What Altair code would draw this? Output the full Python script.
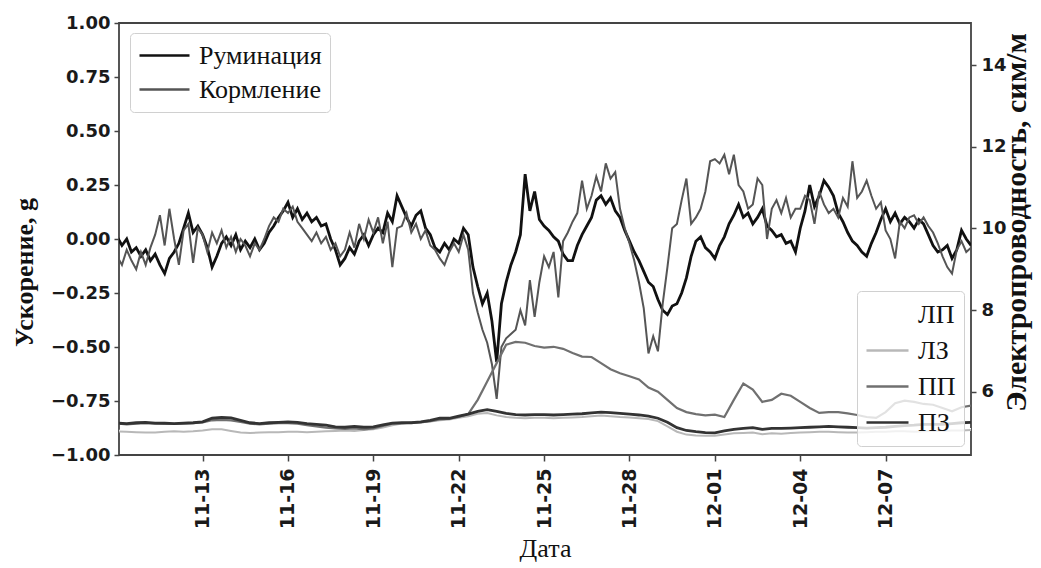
import altair as alt
import pandas as pd

# ---- left axis series (acceleration, g), one value every 4 hours from 11-10 00:00 ----
rum = [
    0.01, -0.03, 0.0, -0.06, -0.04, -0.08,
    -0.05, -0.10, -0.07, -0.12, -0.16, -0.09,
    -0.06, -0.02, 0.05, 0.12, 0.03, 0.06,
    0.02, -0.04, -0.13, -0.08, -0.02, 0.01,
    -0.03, 0.02, -0.05, -0.01, -0.04, 0.0,
    -0.05, -0.02, 0.03, 0.06, 0.10, 0.13,
    0.17, 0.10, 0.14, 0.09, 0.12, 0.08,
    0.10, 0.06, 0.07, 0.0, -0.05, -0.12,
    -0.09, -0.04, -0.07, -0.01, 0.02, -0.03,
    0.02, 0.05, 0.03, 0.12, 0.08, 0.20,
    0.15, 0.10, 0.06, 0.11, 0.13, 0.05,
    0.02, -0.04, -0.06, -0.02, -0.05, 0.0,
    -0.02, 0.05, 0.02, -0.13, -0.22, -0.30,
    -0.25, -0.38, -0.57, -0.30, -0.20, -0.12,
    -0.06, 0.02, 0.30, 0.13, 0.22, 0.09,
    0.06, 0.04, 0.01, -0.01, -0.07, -0.10,
    -0.10, -0.03, 0.02, 0.06, 0.10, 0.18,
    0.20, 0.16, 0.19, 0.13, 0.10, 0.04,
    -0.01, -0.06, -0.10, -0.15, -0.20, -0.22,
    -0.28, -0.33, -0.35, -0.31, -0.30, -0.25,
    -0.18, -0.08, -0.01, 0.01, -0.04, -0.06,
    -0.09, -0.03, 0.01, 0.07, 0.11, 0.16,
    0.10, 0.12, 0.07, 0.10, 0.14, 0.06,
    0.04, 0.01, 0.02, -0.02, -0.01, -0.06,
    0.05, 0.13, 0.25, 0.15, 0.20, 0.27,
    0.24, 0.20, 0.12, 0.08, 0.03, -0.01,
    -0.03, -0.06, -0.08, -0.02, 0.03, 0.09,
    0.14, 0.08, 0.12, 0.07, 0.10, 0.08,
    0.05, 0.09, 0.07, 0.02, -0.03, -0.06,
    -0.05, -0.03, -0.09, -0.05, 0.04, 0.0,
    -0.03,
]
korm = [
    -0.08, -0.12, -0.05, -0.10, -0.14, -0.06,
    -0.12, -0.04, 0.02, 0.11, -0.03, 0.14,
    0.0, -0.12, 0.04, 0.07, -0.11, 0.05,
    0.02, -0.06, 0.03, -0.02, 0.04, -0.04,
    0.01, -0.06, 0.0, -0.03, -0.08, -0.02,
    -0.05, 0.0, 0.06, 0.10, 0.08, 0.14,
    0.12, 0.15, 0.08, 0.05, 0.02, -0.01,
    0.03, -0.02, 0.01, -0.05, -0.02, -0.08,
    -0.05, 0.03, -0.04, 0.07, 0.0, 0.09,
    0.03, 0.10, -0.02, 0.08, -0.13, 0.05,
    0.06, 0.12, 0.03, 0.07, 0.0, 0.04,
    -0.03, -0.05, -0.09, -0.12, -0.06, -0.02,
    -0.06, 0.02, -0.05, -0.25, -0.34, -0.42,
    -0.48, -0.58, -0.74, -0.50, -0.46, -0.44,
    -0.42, -0.33, -0.40, -0.19, -0.36, -0.20,
    -0.08, -0.13, -0.06, -0.27, -0.01, 0.03,
    0.08, 0.12, 0.27, 0.14, 0.20, 0.29,
    0.22, 0.35, 0.28, 0.31, 0.14, 0.05,
    -0.02, -0.10, -0.20, -0.32, -0.53, -0.45,
    -0.52, -0.30, -0.13, 0.05, 0.07, 0.18,
    0.28, 0.07, 0.10, 0.14, 0.22, 0.36,
    0.37, 0.35, 0.39, 0.30, 0.39, 0.25,
    0.22, 0.14, 0.16, 0.28, 0.25, 0.0,
    0.14, 0.18, 0.12, 0.19, 0.10, 0.14,
    0.14, 0.20, 0.18, 0.07, 0.22, 0.16,
    0.12, 0.14, 0.10, 0.19, 0.15, 0.36,
    0.19, 0.22, 0.27, 0.20, 0.14, 0.17,
    0.04, 0.0, -0.09, 0.08, 0.05, 0.10,
    0.11, 0.07, 0.10, 0.06, 0.03, -0.02,
    -0.08, -0.13, -0.16, -0.05, -0.01, -0.06,
    -0.04,
]

# ---- right axis series (conductivity), one value every 8 hours from 11-10 00:00 ----
lp = [
    5.05, 5.04, 5.05, 5.06, 5.05, 5.05, 5.04, 5.05, 5.06, 5.08, 5.12, 5.12,
    5.10, 5.06, 5.04, 5.04, 5.05, 5.06, 5.06, 5.05, 5.04, 5.04, 5.05, 5.06,
    5.06, 5.05, 5.07, 5.10, 5.14, 5.20, 5.24, 5.26, 5.27, 5.29, 5.32, 5.34,
    5.38, 5.42, 5.48, 5.50, 5.45, 5.40, 5.38, 5.37, 5.38, 5.38, 5.37, 5.38,
    5.39, 5.40, 5.42, 5.44, 5.42, 5.40, 5.39, 5.37, 5.35, 5.30, 5.18, 5.05,
    4.98, 4.96, 4.95, 4.95, 4.98, 5.01, 5.02, 5.03, 5.00, 5.01, 5.00, 5.02,
    5.03, 5.04, 5.05, 5.05, 5.04, 5.03, 5.03, 5.04, 5.05, 5.05, 5.06, 5.06,
    5.05, 5.06, 5.07, 5.07, 5.08, 5.08, 5.09,
]
lz = [
    5.03, 5.02, 5.01, 5.00, 5.00, 5.02, 5.03, 5.02, 5.03, 5.05, 5.08, 5.08,
    5.04, 5.00, 4.99, 5.00, 5.01, 5.01, 5.02, 5.02, 5.01, 5.02, 5.03, 5.04,
    5.05, 5.04, 5.06, 5.08, 5.12, 5.18, 5.22, 5.24, 5.25, 5.27, 5.30, 5.32,
    5.36, 5.40, 5.46, 5.48, 5.42, 5.38, 5.36, 5.35, 5.36, 5.36, 5.35, 5.36,
    5.37, 5.38, 5.40, 5.42, 5.40, 5.38, 5.37, 5.35, 5.33, 5.28, 5.15, 5.02,
    4.95, 4.93, 4.92, 4.92, 4.95, 4.98, 4.99, 5.00, 4.96, 4.98, 4.97, 4.99,
    5.00, 5.01, 5.02, 5.02, 5.01, 5.00, 5.00, 5.01, 5.02, 5.02, 5.03, 5.03,
    5.02, 5.03, 5.04, 5.04, 5.05, 5.05, 5.06,
]
pp = [
    5.22, 5.20, 5.22, 5.23, 5.22, 5.21, 5.21, 5.22, 5.23, 5.25, 5.30, 5.31,
    5.30, 5.26, 5.22, 5.20, 5.22, 5.23, 5.23, 5.22, 5.18, 5.15, 5.12, 5.10,
    5.09, 5.10, 5.08, 5.10, 5.16, 5.22, 5.23, 5.24, 5.25, 5.28, 5.32, 5.34,
    5.38, 5.45, 5.80, 6.25, 6.70, 7.15, 7.22, 7.20, 7.12, 7.08, 7.10, 7.05,
    6.95, 6.86, 6.85, 6.70, 6.55, 6.45, 6.38, 6.30, 6.10, 6.00, 5.80, 5.60,
    5.50, 5.45, 5.42, 5.44, 5.38, 5.80, 6.20, 6.05, 5.75, 5.80, 5.95, 5.90,
    5.75, 5.60, 5.48, 5.50, 5.50, 5.47, 5.43, 5.38, 5.36, 5.50, 5.72, 5.78,
    5.75, 5.70, 5.68, 5.60, 5.52, 5.62, 5.66,
]
pz = [
    5.23, 5.22, 5.24, 5.25, 5.23, 5.23, 5.22, 5.23, 5.24, 5.26, 5.35, 5.37,
    5.36, 5.30, 5.24, 5.22, 5.24, 5.25, 5.26, 5.25, 5.22, 5.20, 5.18, 5.14,
    5.13, 5.15, 5.13, 5.14, 5.19, 5.23, 5.24, 5.24, 5.26, 5.30, 5.35, 5.35,
    5.40, 5.45, 5.52, 5.56, 5.52, 5.47, 5.44, 5.43, 5.44, 5.44, 5.43, 5.44,
    5.45, 5.46, 5.48, 5.50, 5.49, 5.47, 5.45, 5.43, 5.40, 5.35, 5.25, 5.12,
    5.05, 5.02, 5.00, 4.99, 5.04, 5.08, 5.10, 5.12, 5.08, 5.10, 5.10, 5.11,
    5.12, 5.13, 5.14, 5.15, 5.14, 5.13, 5.12, 5.11, 5.12, 5.13, 5.15, 5.17,
    5.18, 5.20, 5.20, 5.20, 5.22, 5.24, 5.25,
]

left_names = ["Руминация", "Кормление"]
left_colors = ["#111111", "#555555"]
right_names = ["ЛП", "ЛЗ", "ПП", "ПЗ"]
right_colors = ["#ffffff", "#b8b8b8", "#707070", "#333333"]
x_ticks = [(11, 13), (11, 16), (11, 19), (11, 22), (11, 25), (11, 28),
           (12, 1), (12, 4), (12, 7)]

left_t = pd.date_range("2021-11-10 00:00", periods=len(rum), freq="4h")
right_t = pd.date_range("2021-11-10 00:00", periods=len(pz), freq="8h")

left_df = {
    "Руминация": pd.DataFrame({"t": left_t, "v": rum, "s": "Руминация"}),
    "Кормление": pd.DataFrame({"t": left_t, "v": korm, "s": "Кормление"}),
}
right_df = {
    "ЛП": pd.DataFrame({"t": right_t, "v": lp, "s": "ЛП"}),
    "ЛЗ": pd.DataFrame({"t": right_t, "v": lz, "s": "ЛЗ"}),
    "ПП": pd.DataFrame({"t": right_t, "v": pp, "s": "ПП"}),
    "ПЗ": pd.DataFrame({"t": right_t, "v": pz, "s": "ПЗ"}),
}

serif = "Liberation Serif"
sans = "DejaVu Sans"

x_enc = alt.X(
    "t:T",
    scale=alt.Scale(domain=[alt.DateTime(year=2021, month=11, date=10, hours=1, minutes=30),
                            alt.DateTime(year=2021, month=12, date=10)]),
    axis=alt.Axis(
        values=[alt.DateTime(year=2021, month=m, date=d) for m, d in x_ticks],
        format="%m-%d", labelAngle=270, labelAlign="right", labelBaseline="middle",
        labelFontSize=19, labelPadding=7, tickSize=6,
        title="Дата", titleFont=serif, titleFontWeight="normal", titleFontSize=26,
        titleBaseline="alphabetic", titleY=101,
    ),
)

left_y = alt.Y(
    "v:Q",
    scale=alt.Scale(domain=[-1, 1], nice=False, zero=False),
    axis=alt.Axis(
        orient="left", values=[-1, -0.75, -0.5, -0.25, 0, 0.25, 0.5, 0.75, 1],
        format=".2f", tickSize=5, labelPadding=4,
        title="Ускорение, g", titleFont=serif, titleFontWeight="bold", titleFontSize=26,
        titleAngle=270, titleBaseline="alphabetic", titleX=-87, titleY=249,
    ),
)
right_y = alt.Y(
    "v:Q",
    scale=alt.Scale(domain=[4.45, 15.03], nice=False, zero=False),
    axis=alt.Axis(
        orient="right", values=[6, 8, 10, 12, 14], format="d", tickSize=5, labelPadding=5,
        title="Электропроводность, сим/м", titleFont=serif, titleFontWeight="bold",
        titleFontSize=30, titleAngle=270, titleBaseline="alphabetic", titleX=54, titleY=199,
    ),
)

left_color = alt.Color(
    "s:N",
    scale=alt.Scale(domain=left_names, range=left_colors),
    legend=alt.Legend(
        orient="none", legendX=11, legendY=10, title=None, symbolType="stroke",
        symbolSize=2500, symbolStrokeWidth=2.6, labelFont=serif, labelFontSize=26,
        labelColor="#111111", labelOffset=8, padding=8, rowPadding=5, clipHeight=29,
        fillColor="rgba(255,255,255,0.8)", strokeColor="#d0d0d0", cornerRadius=4,
    ),
)
right_color = alt.Color(
    "s:N",
    scale=alt.Scale(domain=right_names, range=right_colors),
    legend=alt.Legend(
        orient="none", legendX=738, legendY=268, title=None, symbolType="stroke",
        symbolSize=1764, symbolStrokeWidth=2.6, labelFont=serif, labelFontSize=26,
        labelColor="#111111", labelOffset=8, padding=8, rowPadding=5, clipHeight=31,
        fillColor="rgba(255,255,255,0.8)", strokeColor="#d0d0d0", cornerRadius=4,
    ),
)

left_widths = {"Руминация": 2.8, "Кормление": 2.0}
right_widths = {"ЛП": 1.8, "ЛЗ": 2.0, "ПП": 2.2, "ПЗ": 2.8}

left_layers = [
    alt.Chart(left_df[n]).mark_line(clip=True, strokeWidth=left_widths[n]).encode(
        x=x_enc, y=left_y, color=left_color)
    for n in left_names
]
right_layers = [
    alt.Chart(right_df[n]).mark_line(clip=True, strokeWidth=right_widths[n]).encode(
        x=x_enc, y=right_y, color=right_color)
    for n in right_names
]

left = alt.layer(*left_layers)
right = alt.layer(*right_layers)

chart = (
    alt.layer(left, right)
    .resolve_scale(y="independent", color="independent")
    .properties(
        width=852, height=432,
        padding={"left": 111, "top": 15, "right": 62, "bottom": 108},
        autosize=alt.AutoSizeParams(type="none"),
    )
    .configure_view(stroke="#444444", strokeWidth=1.8)
    .configure_axis(
        grid=False, domain=False, ticks=True, tickColor="#444444", tickWidth=1.5,
        labelFont=sans, labelFontWeight="bold", labelFontSize=18, labelColor="#1a1a1a",
        titleColor="#111111",
    )
)

chart.save("out.html", embed_options={"renderer": "svg", "actions": False})
